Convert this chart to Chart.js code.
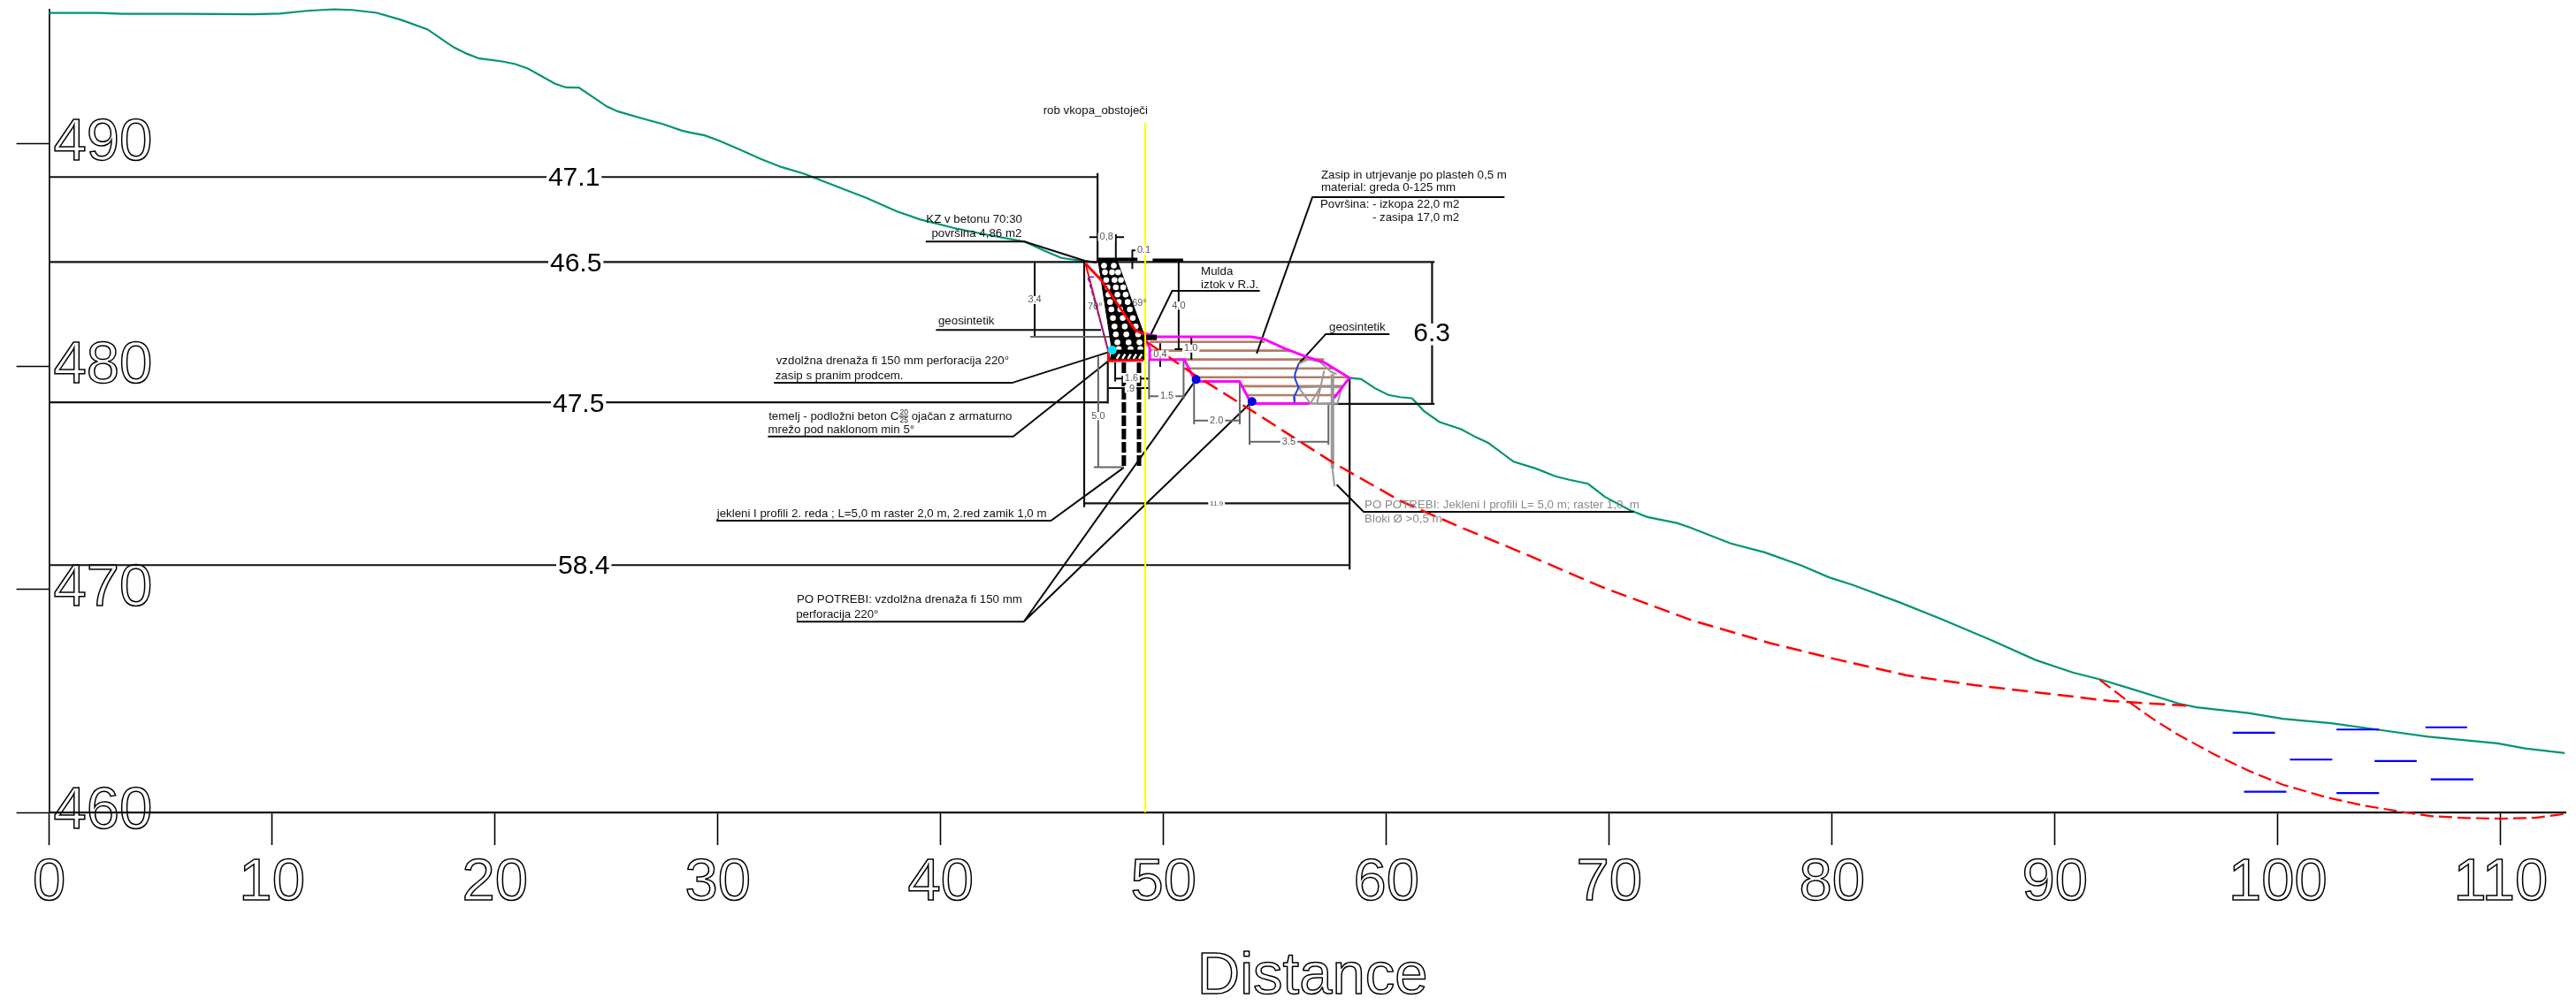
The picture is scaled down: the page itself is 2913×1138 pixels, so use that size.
<!DOCTYPE html>
<html><head><meta charset="utf-8">
<style>html,body{margin:0;padding:0;background:#fff}canvas{display:block}</style>
<script src="https://cdn.jsdelivr.net/npm/chart.js@4"></script></head>
<body><canvas id="c" width="2913" height="1138"></canvas>
<script>
const xAxisTitle = "Distance";
const xTickValues = [0,10,20,30,40,50,60,70,80,90,100,110];
const yTickValues = [460,470,480,490];

const terrainUpper = [[0,495.89],[2.25,495.89],[3.26,495.85],[5.89,495.85],[9.13,495.83],[10.35,495.86],[11.56,495.98],[12.78,496.05],[13.59,496.02],[14.70,495.89],[15.81,495.57],[16.97,495.15],[18.14,494.35],[18.75,494.05],[19.30,493.84],[20.27,493.72],[20.88,493.60],[21.48,493.39],[22.70,492.71],[23.20,492.54],[23.77,492.53],[25.03,491.68],[25.53,491.46],[26.75,491.11],[27.56,490.89],[28.37,490.61],[28.75,490.52],[29.41,490.39],[30.07,490.15],[31.06,489.72],[31.92,489.33],[32.85,488.97],[33.90,488.66],[34.96,488.24],[36.68,487.58],[38.0,486.99],[39.06,486.62],[40.65,486.22],[41.97,485.95],[43.76,485.62],[44.62,485.23],[45.41,484.89],[46.47,484.74]];
const terrainLower = [[58.34,479.51],[58.87,479.45],[59.48,479.04],[60.09,478.74],[60.62,478.64],[61.15,478.59],[61.68,478.02],[62.37,477.53],[63.35,477.20],[64.04,476.83],[64.57,476.59],[65.71,475.74],[66.69,475.44],[67.61,475.08],[68.21,474.93],[69.05,474.75],[69.81,474.16],[70.94,473.56],[71.71,473.26],[73.03,472.99],[73.63,472.79],[75.45,472.07],[76.98,471.67],[78.65,471.07],[79.86,470.55],[80.93,470.21],[83.05,469.42],[84.87,468.69],[87.15,467.73],[89.13,466.84],[90.80,466.28],[92.09,465.95],[93.41,465.55],[95.57,464.88],[96.35,464.72],[98.68,464.46],[100.23,464.20],[102.40,464.00],[104.58,463.70],[106.75,463.40],[109.85,463.10],[111.09,462.87],[112.87,462.66]];
const slipUpper = [[49.25,481.12],[51.33,479.68],[53.98,478.02],[57.59,475.71],[60.65,473.97],[63.19,472.86],[66.23,471.6],[69.66,470.12],[73.71,468.62],[77.28,467.58],[80.32,466.84],[83.35,466.15],[86.39,465.71],[89.42,465.36],[92.48,465.0],[95.89,464.79]];
const slipLower = [[92.01,465.95],[93.33,464.95],[94.49,464.13],[95.57,463.46],[97.12,462.62],[98.67,461.88],[100.23,461.24],[102.24,460.66],[103.94,460.29],[105.73,460.0],[106.9,459.83],[108.46,459.75],[110.0,459.72],[111.56,459.76],[112.87,459.93]];
const waterMarks = [[[97.97,463.58],[99.87,463.58]],[[102.63,463.72],[104.54,463.72]],[[106.62,463.82],[108.49,463.82]],[[100.54,462.37],[102.44,462.37]],[[104.34,462.31],[106.23,462.31]],[[106.86,461.48],[108.77,461.48]],[[98.48,460.93],[100.38,460.93]],[[102.63,460.87],[104.54,460.87]]];
const cutLine = [[49.18,460],[49.18,490.95]];

const mainDims = [[[0,488.52],[47.04,488.52]],[[47.04,488.7],[47.04,484.7]],[[0,484.71],[62.16,484.71]],[[0,478.41],[47.5,478.41]],[[0,471.1],[58.35,471.1]],[[46.44,473.87],[58.35,473.87]],[[46.44,484.7],[46.44,473.7]],[[58.35,479.48],[58.35,470.9]],[[57.4,478.34],[62.16,478.34]],[[62.05,484.71],[62.05,478.34]],[[47.5,480.28],[47.5,478.35]]];
const leaders = [[[39.33,485.62],[43.76,485.62],[46.47,484.76],[47.0,484.68]],[[54.18,480.6],[56.68,487.62],[65.3,487.62]],[[49.34,481.27],[50.39,483.41],[54.32,483.41]],[[39.79,481.66],[47.2,481.66]],[[56.06,480.13],[57.28,481.47],[60.14,481.47]],[[32.52,479.28],[43.2,479.28],[47.53,480.66]],[[32.25,476.87],[43.26,476.87],[47.53,480.27]],[[29.94,473.09],[44.95,473.09],[48.22,475.48]],[[51.46,479.43],[43.73,468.56],[33.54,468.56]],[[43.73,468.56],[53.97,478.44]],[[57.77,474.71],[58.98,473.49],[71.1,473.49]],[[47.86,485.95],[47.86,484.84]],[[46.67,485.82],[47.13,485.82]],[[47.86,485.82],[48.23,485.82]],[[48.83,485.23],[48.6,485.23],[48.6,484.39]],[[50.68,484.79],[50.68,480.79]],[[50.5,480.79],[50.88,480.79]],[[44.22,484.67],[44.22,481.35]],[[47.83,480.2],[47.83,479.34]],[[47.83,479.47],[49.35,479.47]],[[47.53,479.05],[49.38,479.05]],[[51.25,481.39],[51.25,480.33]],[[49.85,481.06],[49.85,480.0]]];
const thickBars = [[[47.07,484.83],[48.83,484.83]],[[49.51,484.79],[50.88,484.79]]];
const grayDims = [[[44.02,481.35],[49.25,481.35]],[[49.35,480.33],[49.35,478.55]],[[49.35,478.68],[50.9,478.68]],[[50.9,480.33],[50.9,478.55]],[[51.37,477.59],[53.44,477.59]],[[51.37,479.34],[51.37,477.42]],[[53.42,479.34],[53.42,477.42]],[[53.86,476.64],[57.4,476.64]],[[53.86,478.35],[53.86,476.5]],[[57.4,478.35],[57.4,476.5]],[[47.07,480.47],[47.07,475.5]],[[46.87,475.5],[48.22,475.5]]];

const fillOutline = [[56.53,478.35],[53.94,478.35],[53.41,479.34],[51.43,479.34],[50.93,480.33],[49.38,480.33],[49.38,480.86],[49.25,481.12],[49.16,481.5],[49.69,481.35],[53.94,481.35],[54.47,481.26],[55.45,480.82],[56.36,480.47],[57.2,480.2],[58.34,479.51],[57.66,478.61]];
const layerLines = [[[49.38,481.12],[54.54,481.12]],[[49.38,480.73],[55.73,480.73]],[[50.93,480.33],[57.2,480.33]],[[51.05,479.93],[57.58,479.93]],[[51.43,479.53],[58.34,479.53]],[[53.47,479.13],[58.03,479.13]],[[53.71,478.73],[57.71,478.73]]];
const wallShape = [[47.07,484.76],[47.92,484.76],[49.22,481.19],[49.18,480.6],[47.71,480.6],[47.07,484.76]];
const baseShape = [[47.71,480.75],[49.18,480.75],[49.18,480.32],[47.6,480.32],[47.71,480.75]];
const baseHatch = [[[47.9,480.36],[48.03,480.57]],[[48.15,480.36],[48.28,480.57]],[[48.4,480.36],[48.53,480.57]],[[48.65,480.36],[48.78,480.57]],[[48.9,480.36],[49.03,480.57]]];
const wallStones = [[47.33,484.54],[47.77,484.54],[47.37,484.24],[47.69,484.24],[47.96,484.24],[47.43,483.90],[47.80,483.90],[48.09,483.90],[47.49,483.57],[47.86,483.57],[48.19,483.57],[47.53,483.24],[47.93,483.24],[48.30,483.24],[47.60,482.91],[47.99,482.91],[48.39,482.91],[47.66,482.58],[48.06,482.58],[48.49,482.58],[47.73,482.19],[48.17,482.19],[48.62,482.19],[47.80,481.81],[48.26,481.81],[48.75,481.81],[47.86,481.46],[48.33,481.46],[48.86,481.46],[47.93,481.10],[48.43,481.10],[48.92,481.10],[47.99,480.80],[48.52,480.80],[48.96,480.80]];
const wallRedCurve = [[46.5,484.63],[47.2,483.9],[48.72,481.66],[49.18,481.43]];
const wallRedBase = [[47.53,480.66],[47.53,480.27],[49.1,480.3]];
const wallRedBack = [[46.5,484.63],[47.53,480.66]];
const wallBlueBack = [[47.2,484.04],[46.6,484.04],[47.53,480.73]];
const pileLeft = [[48.22,480.2],[48.22,475.5]];
const pileRight = [[48.9,480.2],[48.9,475.5]];
const pileGray = [[57.58,479.67],[57.58,475.44]];
const pileGrayTip = [[57.58,475.44],[57.67,474.64]];
const drainChannel = [[49.1,481.32],[49.7,481.32]];
const stonesGray = [[[56.06,480.13],[56.49,480.33],[56.99,480.24],[57.30,479.98],[57.50,479.78],[57.77,479.67]],[[57.21,479.83],[57.05,479.11],[56.06,479.07],[56.59,478.35],[57.05,479.11]],[[57.05,479.11],[58.0,479.07],[57.8,478.35],[56.88,478.33],[57.05,479.11]]];
const stonesBlue = [[[56.06,480.13],[55.9,479.69],[55.9,479.47],[56.06,479.07],[55.85,478.64],[55.88,478.35],[56.53,478.33]]];
const bottomGray = [[56.53,478.35],[57.5,478.35],[57.66,478.61]];
const fractionBar = [[38.11,477.78],[38.55,477.78]];
const drainDots = [[51.46,479.43],[53.97,478.44]];
const gravelDrain = [[47.7,480.75]];

const bigDimLabels = [["47.1",23.55,488.46],["46.5",23.63,484.63],["47.5",23.75,478.32],["58.4",23.99,471.04],["6.3",62.04,481.46]];
const noteLabels = [["rob vkopa_obstoječi",44.6,491.48],["KZ v betonu 70:30",39.35,486.62],["površina 4,86 m2",39.59,485.97],["Zasip in utrjevanje po plasteh 0,5 m",57.07,488.59],["material: greda 0-125 mm",57.07,488.03],["Površina: - izkopa 22,0 m2",57.03,487.28],["- zasipa 17,0 m2",59.37,486.68],["Mulda",51.68,484.26],["iztok v R.J.",51.68,483.66],["geosintetik",39.89,482.04],["geosintetik",57.43,481.79],["vzdolžna drenaža fi 150 mm perforacija 220°",32.62,480.27],["zasip s pranim prodcem.",32.58,479.58],["temelj - podložni beton C",32.28,477.78],["ojačan z armaturno",38.69,477.78],["mrežo pod naklonom min 5°",32.25,477.16],["jekleni I profili 2. reda ; L=5,0 m raster 2,0 m, 2.red zamik 1,0 m",29.96,473.4],["PO POTREBI: vzdolžna drenaža fi 150 mm",33.54,469.55],["perforacija 220°",33.51,468.89]];
const grayNotes = [["PO POTREBI: Jekleni I profili L= 5,0 m; raster 1,0  m",59.02,473.78],["Bloki Ø >0,5 m",59.02,473.15]];
const smallDimLabels = [["0,8",47.44,485.82],["0.1",49.12,485.23],["3.4",44.22,483.0],["4.0",50.68,482.75],["1.0",51.23,480.82],["0,4",49.85,480.56],["1.6",48.56,479.47],[".9",48.52,479.01],["1.5",50.15,478.68],["2.0",52.38,477.59],["3.5",55.62,476.64],["5.0",47.07,477.79]];
const angleLabels = [["70°",46.93,482.71],["69°",48.92,482.85]];
const tinyLabels = [["11.9",52.38,473.87]];
const fractionLabels = [["20",38.35,477.95],["25",38.35,477.58]];
const titleAnchor = [56.68,452.6];

const FONT = '"Liberation Sans", Arial, sans-serif';
const pts = a => a.map(p => ({x:p[0], y:p[1]}));
const multi = g => { const o=[]; g.forEach((l,i)=>{ if(i) o.push({x:null,y:null}); l.forEach(p=>o.push({x:p[0],y:p[1]})); }); return o; };

function line(label,data,color,width,dash,extra){
  return Object.assign({label,data,showLine:true,borderColor:color,borderWidth:width,borderDash:dash||[],pointRadius:0,fill:false,tension:0,clip:false,spanGaps:false},extra||{});
}
function shape(label,data){ return line(label,pts(data),'#000',1,[],{fill:'shape',backgroundColor:'#000'}); }
function dots(label,data,color,border,r){ return {label,data:pts(data),showLine:false,pointRadius:r,pointBackgroundColor:color,pointBorderColor:border,pointBorderWidth:border==='#0000ff'?3:0,clip:false}; }

const ds = [
  line('Layers',multi(layerLines),'#b17c66',2.6),
  line('Terrain',pts(terrainUpper),'#009474',2.2),
  line('Terrain after',pts(terrainLower),'#009474',2.2),
  line('Main dimensions',multi(mainDims),'#111',2.2),
  line('Leaders',multi(leaders),'#0a0a0a',2),
  line('Gray dimensions',multi(grayDims),'#666',2),
  shape('Wall',wallShape),
  dots('Wall stones',wallStones,'#fff','#fff',3.3),
  shape('Base',baseShape),
  line('Base hatch',multi(baseHatch),'#fff',2.5),
  line('Pile left',pts(pileLeft),'#000',5,[12,3]),
  line('Pile right',pts(pileRight),'#000',5,[12,3]),
  line('Bars',multi(thickBars),'#000',3.5),
  line('Pile gray',pts(pileGray),'#999',4),
  line('Pile gray tip',pts(pileGrayTip),'#999',2),
  line('Stones gray',multi(stonesGray),'#999',2),
  line('Stones blue',multi(stonesBlue),'#2040e0',2),
  line('Fill outline',pts(fillOutline),'#ff00ff',3),
  line('Fill bottom',pts(bottomGray),'#999',2.5),
  line('Wall back red',pts(wallRedBack),'#ff0000',2),
  line('Wall back blue',pts(wallBlueBack),'#3030ff',1.5,[5,3]),
  line('Wall red base',pts(wallRedBase),'#ff0000',3),
  line('Wall red curve',pts(wallRedCurve),'#ff0000',3),
  line('Channel',pts(drainChannel),'#000',6),
  line('Slip upper',pts(slipUpper),'#ff0000',2.5,[18,8]),
  line('Slip lower',pts(slipLower),'#ff0000',2.2,[15,6]),
  line('Water',multi(waterMarks),'#0000ff',2.2),
  line('Fraction',pts(fractionBar),'#111',1),
  dots('Drains',drainDots,'#001a80','#0000ff',3.5),
  dots('Gravel',gravelDrain,'#00e5ff','#00e5ff',5),
  line('Cut',pts(cutLine),'#ffff00',2)
];
ds.forEach((d,i)=>{ d.order = ds.length - i; });

const annot = {
  id:'annot',
  afterDatasetsDraw(chart){
    const c = chart.ctx, X = chart.scales.x, Y = chart.scales.y;
    const draw = (list,size,color,align,bg) => {
      c.font = size+'px '+FONT; c.textAlign = align; c.textBaseline = 'middle';
      list.forEach(([t,x,y]) => {
        const px = X.getPixelForValue(x), py = Y.getPixelForValue(y);
        if (bg) { const w = c.measureText(t).width + 4, h = size*0.82;
          c.fillStyle = '#fff'; c.fillRect(px-w/2,py-h/2,w,h); }
        c.fillStyle = color; c.fillText(t,px,py);
      });
    };
    draw(noteLabels,13.3,'#111','left',false);
    draw(grayNotes,13.3,'#8a8a8a','left',false);
    draw(fractionLabels,8.5,'#222','center',false);
    draw(smallDimLabels,11,'#555','center',true);
    draw(angleLabels,11,'#555','center',false);
    draw(tinyLabels,8,'#555','center',true);
    draw(bigDimLabels,30,'#000','center',true);
    c.save();
    c.font = '67px '+FONT; c.textAlign='center'; c.textBaseline='middle';
    c.lineWidth = 1.5; c.strokeStyle='#000'; c.lineJoin='round';
    c.strokeText(xAxisTitle, X.getPixelForValue(titleAnchor[0]), Y.getPixelForValue(titleAnchor[1]));
    c.restore();
  }
};

const outlined = {font:{family:FONT,size:67},color:'rgba(0,0,0,0)',textStrokeColor:'#000',textStrokeWidth:1.5};
new Chart(document.getElementById('c'),{
  type:'scatter',
  data:{datasets:ds},
  plugins:[annot],
  options:{
    responsive:false,animation:false,devicePixelRatio:1,
    layout:{padding:{left:0,top:11,right:12,bottom:0}},
    plugins:{legend:{display:false},tooltip:{enabled:false},title:{display:false}},
    scales:{
      x:{type:'linear',min:0,max:112.9,position:'bottom',
        afterFit(s){ s.height = 219; s.paddingLeft = 0; s.paddingRight = 0; },
        afterBuildTicks(s){ s.ticks = xTickValues.map(v=>({value:v})); },
        grid:{drawOnChartArea:false,drawTicks:true,tickLength:37,tickColor:'#000',tickWidth:1.6},
        border:{display:true,color:'#111',width:2.2},
        ticks:Object.assign({},outlined,{padding:3,autoSkip:false,maxRotation:0,minRotation:0,includeBounds:false}),
        title:{display:false,text:xAxisTitle}},
      y:{type:'linear',min:460,max:496.03,position:'left',
        afterFit(s){ s.width = 55.6; s.paddingTop = 0; s.paddingBottom = 0; },
        afterBuildTicks(s){ s.ticks = yTickValues.map(v=>({value:v})); },
        grid:{drawOnChartArea:false,drawTicks:true,tickLength:37,tickColor:'#000',tickWidth:1.6},
        border:{display:true,color:'#111',width:1.8},
        ticks:Object.assign({},outlined,{mirror:true,padding:5,autoSkip:false,includeBounds:false})}
    }
  }
});
</script></body></html>
